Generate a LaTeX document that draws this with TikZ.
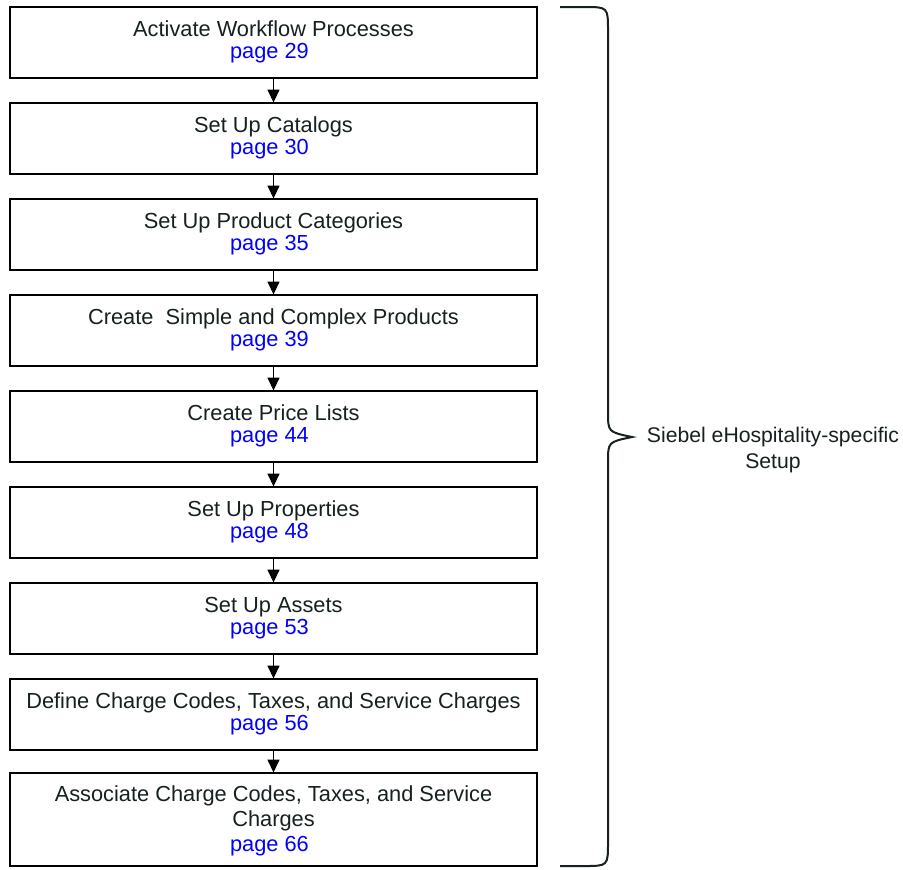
\documentclass[tikz,border=0pt]{standalone}
\usepackage{fontspec}
\setmainfont{Liberation Sans}
\usetikzlibrary{positioning,arrows.meta}
\definecolor{pageblue}{RGB}{0,0,255}
\definecolor{inkgray}{RGB}{22,32,32}
\newcommand{\pg}[1]{\\\textcolor{pageblue}{page #1}\hspace*{4pt}}
\tikzset{
  stepbox/.style={draw=black, line width=1pt, minimum width=263.5pt, minimum height=35.5pt,
    inner sep=0pt, outer sep=0pt, align=center, text=inkgray,
    font=\fontsize{10.9}{11.2}\selectfont},
  flow/.style={-{Triangle[width=6pt,length=6.5pt]}, line width=0.8pt}
}
\begin{document}
\begin{tikzpicture}[x=0.5pt,y=-0.5pt]
  \useasboundingbox (0,0) rectangle (903,869);
  \node[stepbox] (s1) at (273.5,42) {Activate Workflow Processes\pg{29}};
  \node[stepbox, below=12.5pt of s1] (s2) {Set Up Catalogs\pg{30}};
  \node[stepbox, below=12.5pt of s2] (s3) {Set Up Product Categories\pg{35}};
  \node[stepbox, below=12.5pt of s3] (s4) {Create~ Simple and Complex Products\pg{39}};
  \node[stepbox, below=12.5pt of s4] (s5) {Create Price Lists\pg{44}};
  \node[stepbox, below=12.5pt of s5] (s6) {Set Up Properties\pg{48}};
  \node[stepbox, below=12.5pt of s6] (s7) {Set Up Assets\pg{53}};
  \node[stepbox, below=12.5pt of s7] (s8) {Define Charge Codes, Taxes, and Service Charges\pg{56}};
  \node[stepbox, below=11.5pt of s8, minimum height=46.5pt, text depth=-2pt,
    font=\fontsize{10.9}{12.5}\selectfont] (s9)
    {Associate Charge Codes, Taxes, and Service\\Charges\pg{66}};
  \foreach \a/\b in {s1/s2,s2/s3,s3/s4,s4/s5,s5/s6,s6/s7,s7/s8,s8/s9}
    \draw[flow] (\a) -- (\b);
  % brace round all the steps
  \draw[line width=1pt, inkgray] (560,7) -- (584,7) .. controls (608,7) .. (608,31)
    -- (608,412) .. controls (608,432) .. (632,437) .. controls (608,442) .. (608,462)
    -- (608,842) .. controls (608,866) .. (584,866) -- (560,866);
  \node[align=center, text=inkgray, font=\fontsize{10.6}{13}\selectfont] (setup) at (773,450)
    {Siebel eHospitality-specific\\Setup};
\end{tikzpicture}
\end{document}
